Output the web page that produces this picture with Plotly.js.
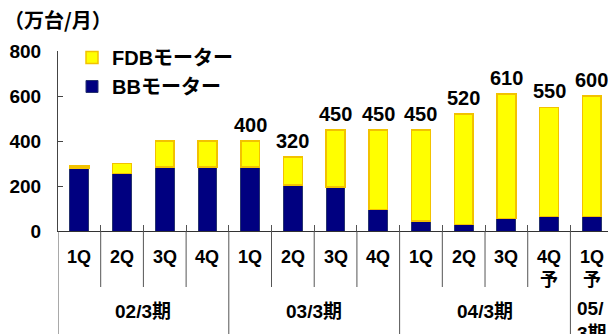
<!DOCTYPE html>
<html>
<head>
<meta charset="utf-8">
<script src="https://cdn.plot.ly/plotly-3.0.1.min.js"></script>
<style>html,body{margin:0;padding:0;background:#fff;}#chart{width:608px;height:334px;}</style>
</head>
<body>
<div id="chart"></div>
<script>
// ---- data ----
const quarterLabels = ['1Q','2Q','3Q','4Q','1Q','2Q','3Q','4Q','1Q','2Q','3Q','4Q<br>予','1Q<br>予'];
const groupLabels = ['02/3期','03/3期','04/3期','05/<br>3期'];
const groupSizes = [4,4,4,1];
const bbValues  = [280,255,285,285,285,205,195,95,45,30,55,65,65];
const fdbValues = [10,45,115,115,115,125,255,355,405,490,555,485,535];
const totalLabels = ['','','','','400','320','450','450','450','520','610','550','600'];
const seriesNames = ['BBモーター','FDBモーター'];
const titleText = '（万台/月）';

// ---- build ----
const categories = [];
let gi = 0, cnt = 0;
quarterLabels.forEach((q, i) => {
  categories.push(groupLabels[gi] + '|' + q + '|' + i);
  cnt++;
  if (cnt >= groupSizes[gi]) { gi++; cnt = 0; }
});
const totals = bbValues.map((v, i) => v + fdbValues[i]);

const fontFam = 'Liberation Sans, Arial, Noto Sans CJK JP, sans-serif';
const pxToPaperY = (px) => (231 - px) / 180;

const traces = [
  {type:'bar', name:seriesNames[0], x:categories, y:bbValues, width:0.44,
   marker:{color:'#000080', line:{color:'#27336e', width:1}}, hoverinfo:'skip'},
  {type:'bar', name:seriesNames[1], x:categories, y:fdbValues, width:0.44,
   marker:{color:'#ffff00', line:{color:'#f2c200', width:1.5}}, hoverinfo:'skip'}
];

const annotations = [];
const shapes = [];
// value labels
categories.forEach((c, i) => {
  if (totalLabels[i]) {
    annotations.push({x:c, y:totals[i], xref:'x', yref:'y', text:totalLabels[i], showarrow:false,
      yanchor:'bottom', yshift:3, font:{family:fontFam, size:20, color:'#000', weight:'bold'}});
  }
});
// quarter labels
categories.forEach((c, i) => {
  annotations.push({x:c, y:pxToPaperY(245), xref:'x', yref:'paper', text:quarterLabels[i], showarrow:false,
    yanchor:'top', align:'center', font:{family:fontFam, size:18, color:'#000', weight:'bold'}});
});
// group labels
let start = 0;
groupLabels.forEach((g, k) => {
  const n = groupSizes[k];
  const center = start + (n - 1) / 2;
  annotations.push({x:center, y:pxToPaperY(n > 1 ? 311 : 296), xref:'x', yref:'paper', text:g, showarrow:false,
    yanchor:n > 1 ? 'middle' : 'top', align:'left', font:{family:fontFam, size:19, color:'#000', weight:'bold'}});
  start += n;
});
// separators
const groupStarts = [0];
groupSizes.reduce((a, n) => { groupStarts.push(a + n); return a + n; }, 0);
for (let b = 0; b <= categories.length; b++) {
  const isGroup = groupStarts.includes(b);
  shapes.push({type:'line', xref:'x', yref:'paper', x0:b - 0.5, x1:b - 0.5,
    y0:0, y1:isGroup ? pxToPaperY(340) : pxToPaperY(287), line:{color:'#555', width:1}});
}
const tickPos = [];
for (let b = 1; b < categories.length; b++) tickPos.push(b - 0.5);

const layout = {
  width:608, height:334,
  margin:{l:58, r:0, t:51, b:103, pad:0},
  paper_bgcolor:'#fff', plot_bgcolor:'#fff',
  barmode:'stack',
  showlegend:true,
  title:{text:titleText, x:4/608, xanchor:'left', xref:'container', y:1 - 21/334, yanchor:'middle', yref:'container',
    font:{family:'Noto Sans CJK JP, sans-serif', size:20, color:'#000', weight:'bold'}},
  legend:{x:(72 - 58)/550, y:pxToPaperY(38), xanchor:'left', yanchor:'top', traceorder:'reversed',
    bgcolor:'rgba(0,0,0,0)', font:{family:fontFam, size:20, color:'#000', weight:'bold'}},
  xaxis:{type:'category', range:[-0.5, 12.38], showticklabels:false, showgrid:false, zeroline:false,
    showline:true, linecolor:'#333', linewidth:1, ticks:'inside', ticklen:6, tickcolor:'#555',
    tickmode:'array', tickvals:tickPos, fixedrange:true},
  yaxis:{range:[0, 800], dtick:200, tick0:0, showgrid:false, zeroline:false, showline:true, linecolor:'#444',
    linewidth:1, ticks:'inside', ticklen:5, tickcolor:'#444', ticklabelstandoff:12,
    tickfont:{family:fontFam, size:19, color:'#000', weight:'bold'}, fixedrange:true},
  annotations:annotations,
  shapes:shapes
};

Plotly.newPlot('chart', traces, layout, {staticPlot:true, displayModeBar:false});
</script>
</body>
</html>
